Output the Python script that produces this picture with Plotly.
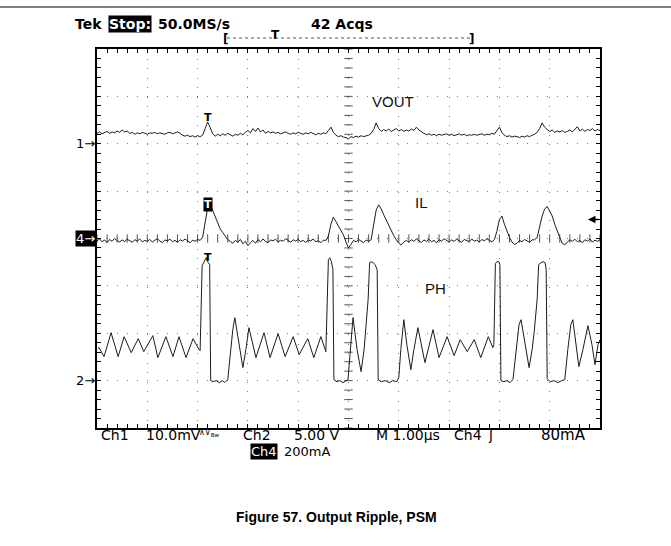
import numpy as np
import plotly.graph_objects as go

# scope screen edges in the 671x546 page (px)
W, H = 671, 546
L, R, T, B = 97, 600, 49, 428

# channel settings (scale per division, ground position in divisions)
CH1_SCALE, CH1_POS = 10.0, 2.0     # mV/div  VOUT
CH4_SCALE, CH4_POS = 200.0, 0.0    # mA/div  IL
CH2_SCALE, CH2_POS = 5.0, -3.0     # V/div   PH
TRIG_T = -2.8                      # us
TRIG_LEVEL_MA = 80.0

# time base of the acquired record, 1 us/div, 0.05 us per point
t_rec = np.round(np.arange(-5.0, 5.0001, 0.05), 2)

# VOUT ripple (mV, AC)
vout_mv = [
    2.2, 2.5, 2.1, 2.4, 2.6, 2.2, 2.5, 2.3, 2.7, 2.4,
    2.9, 2.5, 2.7, 2.2, 2.4, 2.0, 2.3, 2.1, 2.4, 2.2,
    2.0, 2.3, 2.2, 2.4, 2.1, 2.3, 2.2, 2.0, 2.3, 2.4,
    2.1, 2.3, 2.5, 2.2, 1.8, 1.6, 1.8, 1.5, 1.7, 1.4,
    1.7, 1.5, 1.8, 3.2, 4.6, 3.4, 2.1, 1.6, 2.0, 1.7,
    2.1, 1.8, 2.2, 1.9, 1.6, 2.0, 1.8, 2.2, 1.9, 2.4,
    2.8, 2.3, 3.2, 2.6, 3.3, 2.5, 2.9, 2.2, 2.6, 2.3,
    2.5, 2.2, 2.4, 2.1, 2.3, 2.5, 2.2, 2.0, 2.3, 2.1,
    2.4, 2.2, 2.0, 2.3, 2.1, 2.4, 2.2, 1.9, 2.2, 2.0,
    2.3, 2.1, 2.8, 3.5, 2.4, 1.8, 1.5, 1.7, 1.4, 1.3,
    1.0, 1.5, 1.3, 1.6, 1.4, 1.7, 1.5, 1.6, 1.8, 2.2,
    3.0, 4.4, 3.2, 2.6, 3.0, 2.7, 3.1, 2.6, 2.9, 3.2,
    2.7, 3.0, 2.6, 2.9, 2.7, 3.1, 2.8, 3.5, 2.9, 2.5,
    2.2, 1.9, 2.1, 1.8, 2.0, 1.7, 2.0, 1.8, 1.9, 2.1,
    1.8, 2.0, 1.7, 1.9, 2.1, 1.8, 2.0, 1.7, 1.9, 1.8,
    2.0, 1.8, 1.9, 2.1, 1.8, 2.0, 1.9, 2.2, 2.0, 2.8,
    3.5, 2.4, 1.8, 1.5, 1.7, 1.4, 1.6, 1.5, 1.3, 1.6,
    1.4, 1.7, 1.5, 1.8, 2.0, 2.4, 3.2, 4.4, 3.5, 3.0,
    2.6, 2.9, 2.4, 2.7, 2.5, 2.8, 2.4, 2.6, 2.9, 2.5,
    3.0, 3.6, 2.7, 3.1, 2.6, 3.0, 2.8, 3.2, 2.7, 3.0, 2.8,
]

# inductor current (mA)
il_ma = [
    -10, -2, -14, -6, -18, -4, -12, 0, -9, -15,
    -6, -13, -3, -10, -16, -5, -11, -2, -14, -8,
    -12, -4, -15, -7, -1, -11, -17, -6, -10, -3,
    -13, -8, -16, -5, -11, -2, -9, -18, -7, -12,
    -4, -8, 5, 70, 130, 145, 120, 95, 70, 40,
    25, 12, -5, -12, -20, -8, -16, -4, -22, -12,
    -30, -18, -8, -20, -5, -14, -2, -12, -18, -6,
    -10, -3, -15, -7, -12, -1, -9, -16, -5, -11,
    -4, -13, -8, -17, -6, -10, -2, -14, -9, -18,
    -7, -8, 10, 60, 90, 70, 50, 30, 15, -15,
    -40, -25, -8, -14, -4, -11, -18, -6, -12, -5,
    50, 120, 142, 125, 100, 78, 55, 30, 12, -5,
    -20, -27, -15, -8, -16, -5, -12, -2, -10, -17,
    -6, -12, -3, -14, -8, -18, -5, -11, -1, -9,
    -15, -6, -12, -3, -10, -16, -4, -9, -13, -2,
    -11, -7, -15, -4, -10, -1, -8, -14, -5, 30,
    80, 95, 60, 28, 5, -15, -25, -20, -8, -14,
    -4, -10, -16, -6, -5, 5, 50, 95, 125, 135,
    115, 95, 60, 30, 5, -20, -27, -15, -6, -12,
    -3, -14, -8, -18, -5, -11, -2, -15, -7, -12, -4,
]

# phase node (us, V)
ph_t = [
    -4.98, -4.96, -4.86, -4.72, -4.58, -4.46, -4.32, -4.18, -4.07, -3.89,
    -3.79, -3.63, -3.49, -3.37, -3.23, -3.09, -2.97, -2.95, -2.91, -2.87,
    -2.83, -2.80, -2.76, -2.74, -2.69, -2.63, -2.57, -2.51, -2.46, -2.40,
    -2.36, -2.30, -2.26, -2.18, -2.10, -2.04, -1.98, -1.84, -1.68, -1.56,
    -1.40, -1.26, -1.10, -0.98, -0.81, -0.69, -0.55, -0.45, -0.42, -0.40,
    -0.37, -0.34, -0.31, -0.29, -0.23, -0.17, -0.11, -0.05, -0.01, 0.03,
    0.07, 0.09, 0.17, 0.25, 0.31, 0.35, 0.39, 0.42, 0.45, 0.49,
    0.53, 0.57, 0.59, 0.65, 0.73, 0.81, 0.88, 0.96, 1.00, 1.04,
    1.10, 1.16, 1.24, 1.30, 1.38, 1.52, 1.68, 1.80, 1.96, 2.10,
    2.22, 2.36, 2.50, 2.63, 2.78, 2.87, 2.89, 2.92, 2.95, 2.99,
    3.01, 3.03, 3.09, 3.15, 3.21, 3.27, 3.33, 3.39, 3.43, 3.51,
    3.59, 3.65, 3.69, 3.75, 3.78, 3.83, 3.87, 3.91, 3.93, 3.95,
    4.01, 4.09, 4.16, 4.24, 4.30, 4.36, 4.42, 4.46, 4.52, 4.58,
    4.66, 4.76, 4.84, 4.90, 4.96, 5.00,
]
ph_v = [
    3.38, 3.48, 2.53, 5.06, 2.53, 4.64, 2.95, 4.43, 3.06, 4.75,
    2.43, 4.64, 2.53, 4.64, 2.43, 4.43, 3.27, 3.16, 12.13, 12.55,
    12.97, 12.55, 12.24, 0.0, -0.11, 0.0, -0.21, 0.0, -0.21, 0.11,
    2.22, 5.38, 6.65, 3.80, 1.37, 3.27, 5.59, 2.43, 5.06, 2.43,
    4.96, 2.53, 4.64, 2.74, 4.43, 2.43, 4.64, 3.06, 8.54, 12.76,
    12.97, 12.55, 11.71, 0.11, -0.11, 0.0, -0.21, 0.0, 0.11, 2.74,
    5.91, 6.65, 3.27, 0.95, 3.27, 5.70, 8.54, 12.45, 12.55, 12.45,
    12.24, 11.71, 0.11, -0.11, 0.0, -0.21, 0.0, -0.11, 0.32, 3.27,
    6.43, 3.80, 1.16, 3.27, 5.59, 1.90, 5.38, 2.43, 4.64, 2.64,
    4.32, 3.06, 4.32, 2.43, 4.64, 3.48, 3.80, 12.34, 12.55, 12.55,
    12.24, 0.0, -0.11, 0.0, -0.21, 0.11, 3.27, 5.91, 6.43, 3.80,
    1.37, 3.27, 5.06, 8.54, 12.24, 12.45, 12.55, 12.45, 11.71, 0.21,
    -0.11, 0.0, -0.21, 0.0, 0.11, 3.27, 5.91, 6.43, 3.80, 1.48,
    3.27, 5.80, 3.80, 1.69, 3.80, 4.32,
]

_INK = "#1c1c1c"
_SCOPE_FONT = "DejaVu Sans"
_ARIAL = "Liberation Sans, Arial, sans-serif"


def px(x):
    return (x - L) / (R - L)


def py(y):
    return (B - y) / (B - T)


vout_div = np.array(vout_mv) / CH1_SCALE + CH1_POS
il_div = np.array(il_ma) / CH4_SCALE + CH4_POS
ph_div = np.array(ph_v) / CH2_SCALE + CH2_POS

fig = go.Figure()

# centre graticule ticks
sub = np.round(np.arange(-5, 5.0001, 0.2), 1)
fig.add_trace(go.Scatter(
    x=sub, y=np.zeros_like(sub), mode="markers", hoverinfo="skip",
    marker=dict(symbol="line-ns", size=6, line=dict(width=1, color="#555")),
))
sub_y = np.round(np.arange(-4, 4.0001, 0.2), 1)
fig.add_trace(go.Scatter(
    x=np.zeros_like(sub_y), y=sub_y, mode="markers", hoverinfo="skip",
    marker=dict(symbol="line-ew", size=6, line=dict(width=1, color="#555")),
))

for yy, name in [(vout_div, "VOUT"), (il_div, "IL")]:
    fig.add_trace(go.Scatter(
        x=t_rec, y=yy, mode="lines", name=name,
        line=dict(color=_INK, width=1),
    ))
fig.add_trace(go.Scatter(
    x=ph_t, y=ph_div, mode="lines", name="PH",
    line=dict(color=_INK, width=1),
))

axis_common = dict(
    showgrid=True, gridcolor="#777", gridwidth=1,
    zeroline=False, showline=True, linecolor="black", linewidth=1.5,
    mirror="ticks", ticks="inside", ticklen=4, tickcolor="black",
    showticklabels=False, fixedrange=True,
)
fig.update_xaxes(range=[-5, 5], dtick=1, tick0=0, griddash="1px,8.5px",
                 minor=dict(dtick=0.2, ticks="inside", ticklen=4, tickcolor="black", showgrid=False),
                 **axis_common)
fig.update_yaxes(range=[-4, 4], dtick=1, tick0=0, griddash="1px,9px",
                 minor=dict(dtick=0.2, ticks="inside", ticklen=4, tickcolor="black", showgrid=False),
                 **axis_common)

ann = []


def text(x, y, s, size=14, bold=False, color="black", bg=None, anchor="left", family=_SCOPE_FONT):
    ann.append(dict(
        x=px(x), y=py(y), xref="paper", yref="paper", text=f"<b>{s}</b>" if bold else s,
        showarrow=False, xanchor=anchor, yanchor="middle",
        font=dict(family=family, size=size, color=color),
        bgcolor=bg, borderpad=0,
    ))


# header
text(74, 24, "Tek", bold=True)
text(108, 24, "Stop:", bold=True, color="white", bg="black")
text(157, 24, "50.0MS/s", bold=True)
text(310, 24, "42 Acqs", bold=True)
text(222, 39, "[", size=12, bold=True)
text(475, 39, "]", size=12, bold=True, anchor="right")
text(275, 35, "T", size=12, bold=True, anchor="center")

# bottom readout
text(100, 435, "Ch1")
text(145, 435, "10.0mV")
text(198, 433, "∧∨<sub>Bw</sub>", size=8)
text(242, 435, "Ch2")
text(293, 435, "5.00 V")
text(250, 451, "Ch4", size=13, color="white", bg="black")
text(283, 451, "200mA", size=13)
text(375, 435, "M 1.00µs")
text(453, 435, "Ch4")
text(487, 435, "ʃ")
text(540, 435, "80mA", size=15)

# figure caption
text(336, 517, "Figure 57. Output Ripple, PSM", size=14, bold=True, anchor="center", family=_ARIAL)

# channel ground markers
for pos, lab, inv in [(CH1_POS, "1→", False), (CH4_POS, "4→", True), (CH2_POS, "2→", False)]:
    ann.append(dict(
        x=0, y=pos, xref="paper", yref="y", text=lab, showarrow=False,
        xanchor="right", yanchor="middle", xshift=-1,
        font=dict(family=_SCOPE_FONT, size=13, color="white" if inv else "black"),
        bgcolor="black" if inv else None, borderpad=0,
    ))

# trigger level arrow (right edge)
ann.append(dict(
    x=px(588), y=TRIG_LEVEL_MA / CH4_SCALE + CH4_POS, xref="paper", yref="y",
    ax=12, ay=0, text="", showarrow=True, arrowhead=2, arrowsize=1, arrowwidth=1.5,
    arrowcolor="black",
))

# trigger marks on the traces
ann.append(dict(x=TRIG_T, y=max(vout_mv) / CH1_SCALE + CH1_POS, xref="x", yref="y",
                text="<b>T</b>", showarrow=False, yanchor="bottom", yshift=-4,
                font=dict(family=_SCOPE_FONT, size=11, color="black")))
ann.append(dict(x=TRIG_T, y=max(il_ma) / CH4_SCALE + CH4_POS, xref="x", yref="y",
                text="<b>T</b>", showarrow=False, yanchor="middle",
                font=dict(family=_SCOPE_FONT, size=11, color="white"), bgcolor="black", borderpad=0))
ann.append(dict(x=TRIG_T, y=max(ph_v) / CH2_SCALE + CH2_POS, xref="x", yref="y",
                text="<b>T</b>", showarrow=False, yanchor="middle",
                font=dict(family=_SCOPE_FONT, size=11, color="black")))

# channel labels
for x, y, s in [(0.88, 2.90, "VOUT"), (1.46, 0.75, "IL"), (1.72, -1.06, "PH")]:
    ann.append(dict(x=x, y=y, xref="x", yref="y", text=s, showarrow=False,
                    font=dict(family=_ARIAL, size=15, color="#111")))

shapes = [
    dict(type="line", xref="paper", yref="paper", x0=px(0), x1=px(W), y0=py(7), y1=py(7),
         line=dict(color="black", width=1)),
    dict(type="line", xref="paper", yref="paper", x0=px(227), x1=px(471), y0=py(38), y1=py(38),
         line=dict(color="#555", width=1, dash="dot")),
]

fig.update_layout(
    width=W, height=H,
    margin=dict(l=L, r=W - R, t=T, b=H - B),
    plot_bgcolor="white", paper_bgcolor="white",
    showlegend=False,
    annotations=ann, shapes=shapes,
)

# page body has a default 8px margin; drop it so the figure sits at 0,0
fig.write_html("out.html", config={"displayModeBar": False},
               post_script="document.body.style.margin='0';")
